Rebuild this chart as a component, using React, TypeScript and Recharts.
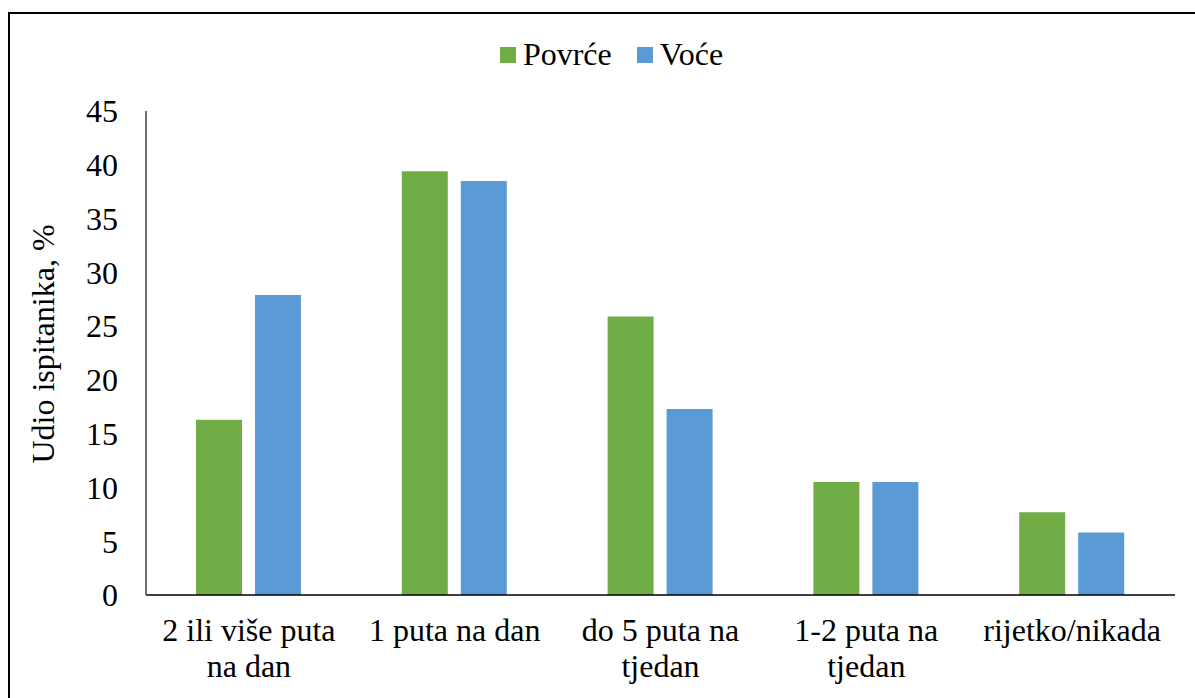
import { BarChart, Bar, XAxis, YAxis, Legend } from "recharts"

const categories = ["2 ili više puta na dan", "1 puta na dan", "do 5 puta na tjedan", "1-2 puta na tjedan", "rijetko/nikada"]
const povrce = [16.3, 39.4, 25.9, 10.5, 7.7]
const voce = [27.9, 38.5, 17.3, 10.5, 5.8]
const yTicks = [0, 5, 10, 15, 20, 25, 30, 35, 40, 45]

const FONT = '"Liberation Serif", "Times New Roman", serif'
const FONT_SIZE = 32
const GREEN = "#70AD47"
const BLUE = "#5B9BD5"

const data = categories.map((name, i) => ({ name, povrce: povrce[i], voce: voce[i] }))

// greedy word wrap measured on a canvas
function wrapWords(text: string, maxWidth: number): string[] {
  const ctx = document.createElement("canvas").getContext("2d")
  if (!ctx) return [text]
  ctx.font = `${FONT_SIZE}px ${FONT}`
  const words = text.split(" ")
  const lines: string[] = []
  let cur = ""
  for (const w of words) {
    const next = cur ? cur + " " + w : w
    if (cur && ctx.measureText(next).width > maxWidth) {
      lines.push(cur)
      cur = w
    } else {
      cur = next
    }
  }
  if (cur) lines.push(cur)
  return lines
}

const CategoryTick = ({ x, y, payload }: any) => {
  const lines = wrapWords(payload.value, 200)
  return (
    <text x={x} y={y} textAnchor="middle" fontSize={FONT_SIZE} fontFamily={FONT} fill="#000">
      {lines.map((line, i) => (
        <tspan key={i} x={x} dy={i === 0 ? "0.71em" : 36}>
          {line}
        </tspan>
      ))}
    </text>
  )
}

const LegendContent = () => (
  <div style={{ display: "flex", justifyContent: "center", alignItems: "center", fontFamily: FONT, fontSize: FONT_SIZE }}>
    {[
      { label: "Povrće", color: GREEN },
      { label: "Voće", color: BLUE },
    ].map((item, i) => (
      <div key={i} style={{ display: "flex", alignItems: "center", marginRight: i === 0 ? 25 : 0 }}>
        <div style={{ width: 16, height: 16, background: item.color, marginRight: 7 }} />
        <span>{item.label}</span>
      </div>
    ))}
  </div>
)

const YLabel = ({ viewBox }: any) => {
  const cx = viewBox.x + 43
  const cy = viewBox.y + viewBox.height / 2 - 9
  return (
    <text
      x={cx}
      y={cy}
      transform={`rotate(-90, ${cx}, ${cy})`}
      textAnchor="middle"
      dominantBaseline="central"
      fontSize={FONT_SIZE}
      fontFamily={FONT}
      fill="#000"
    >
      Udio ispitanika, %
    </text>
  )
}

export default function App() {
  return (
    <div style={{ position: "fixed", top: 0, left: 0, width: 1195, height: 698, overflow: "hidden", background: "#fff" }}>
      <div
        style={{
          position: "absolute",
          left: 8,
          top: 12,
          width: 1220,
          height: 720,
          border: "2px solid #000",
          boxSizing: "border-box",
        }}
      />
      <div style={{ position: "absolute", left: 0, top: 0 }}>
        <BarChart
          width={1195}
          height={698}
          data={data}
          margin={{ top: 111, right: 20, bottom: 0, left: 0 }}
          barSize={46}
          barGap={13}
        >
          <Legend
            layout="horizontal"
            verticalAlign="middle"
            align="center"
            content={<LegendContent />}
            wrapperStyle={{ top: 36, left: 14, width: 1195 }}
          />
          <XAxis
            dataKey="name"
            tickLine={false}
            axisLine={{ stroke: "#000", strokeWidth: 1.5 }}
            tick={<CategoryTick />}
            tickMargin={17}
            height={103}
            interval={0}
          />
          <YAxis
            domain={[0, 45]}
            ticks={yTicks}
            width={146}
            tickLine={false}
            axisLine={{ stroke: "#404040", strokeWidth: 1.5 }}
            tickMargin={22}
            tick={{ fontSize: FONT_SIZE, fontFamily: FONT, fill: "#000" }}
            label={<YLabel />}
          />
          <Bar dataKey="povrce" name="Povrće" fill={GREEN} isAnimationActive={false} />
          <Bar dataKey="voce" name="Voće" fill={BLUE} isAnimationActive={false} />
        </BarChart>
      </div>
    </div>
  )
}
